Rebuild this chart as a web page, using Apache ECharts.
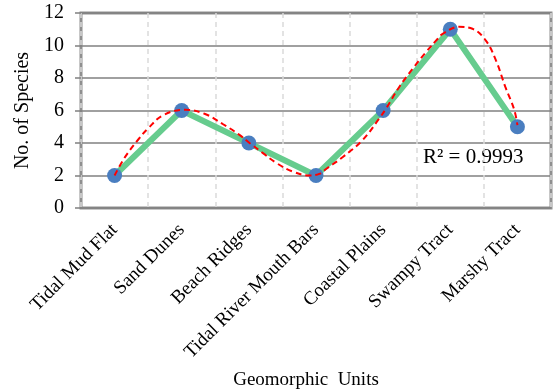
<!DOCTYPE html>
<html>
<head>
<meta charset="utf-8">
<script src="https://cdn.jsdelivr.net/npm/echarts@6/dist/echarts.min.js"></script>
<style>html,body{margin:0;padding:0;background:#fff}#c{width:553px;height:392px}</style>
</head>
<body>
<div id="c"></div>
<script>
const categories = ['Tidal Mud Flat','Sand Dunes','Beach Ridges','Tidal River Mouth Bars','Coastal Plains','Swampy Tract','Marshy Tract'];
const species = [2, 6, 4, 2, 6, 11, 5];
const yTicks = [0, 2, 4, 6, 8, 10, 12];
// Trendline: [category position, value]
const trendX = [0.00,0.15,0.35,0.50,0.72,1.05,1.34,1.61,1.86,2.01,2.21,2.41,2.65,2.90,3.05,3.15,3.40,3.69,3.94,4.04,4.24,4.44,4.64,4.81,4.88,5.13,5.33,5.53,5.68,5.82,5.95,6.00];
const trendY = [2.0,3.1,4.2,4.9,5.7,6.05,5.8,5.17,4.5,4.0,3.38,2.77,2.25,2.0,2.1,2.4,3.14,4.16,5.5,6.1,7.45,8.57,9.6,10.4,10.7,11.15,11.03,10.3,9.08,7.45,6.08,5.1];
const r2Label = 'R² = 0.9993';
const xTitle = 'Geomorphic  Units';
const yTitle = 'No. of Species';

const font = 'Liberation Serif';
const chart = echarts.init(document.getElementById('c'), null, {renderer:'canvas'});
chart.setOption({
  animation: false,
  textStyle: {fontFamily: font},
  grid: {left: 81, right: 2, top: 13, bottom: 184, containLabel: false, outerBoundsMode: 'none',
         show: true, borderColor: '#8f8f8f', borderWidth: 3, backgroundColor: '#fff'},
  xAxis: [{
    type: 'category', data: categories, boundaryGap: true,
    axisLine: {show: false}, axisTick: {show: false},
    splitLine: {show: true, lineStyle: {color: '#dadada', type: [5, 4], width: 1.5}},
    axisLabel: {rotate: 45, fontFamily: font, fontSize: 19, color: '#000', margin: 19, interval: 0}
  }, {
    type: 'value', min: -0.5, max: 6.5, show: false
  }],
  yAxis: {
    type: 'value', min: yTicks[0], max: yTicks[yTicks.length-1], interval: 2,
    axisLine: {show: false, onZero: false},
    axisTick: {show: true, length: 6, lineStyle: {color: '#808080', width: 1.5}},
    splitLine: {show: true, lineStyle: {color: '#808080', width: 1.5}},
    axisLabel: {fontFamily: font, fontSize: 20, color: '#000', margin: 17},
    name: yTitle, nameLocation: 'middle', nameGap: 47,
    nameTextStyle: {fontFamily: font, fontSize: 20, color: '#000'}
  },
  series: [{
    type: 'line', data: species, xAxisIndex: 0,
    lineStyle: {color: '#66cc8e', width: 6},
    symbol: 'circle', symbolSize: 15,
    itemStyle: {color: '#4a7ec0'},
    z: 2
  }, {
    type: 'line', xAxisIndex: 1,
    data: trendX.map((x, i) => [x, trendY[i]]),
    smooth: 0.4, showSymbol: false, symbol: 'none',
    lineStyle: {color: '#ff0000', width: 2, type: [6, 4]},
    z: 3
  }],
  graphic: [{
    type: 'text', left: 423, top: 147,
    style: {text: r2Label, fontFamily: font, fontSize: 21, fill: '#000'}
  }, {
    type: 'text', x: 306, y: 380,
    style: {text: xTitle, fontFamily: font, fontSize: 19, fill: '#000', align: 'center', verticalAlign: 'middle'}
  }]
});
</script>
</body>
</html>
